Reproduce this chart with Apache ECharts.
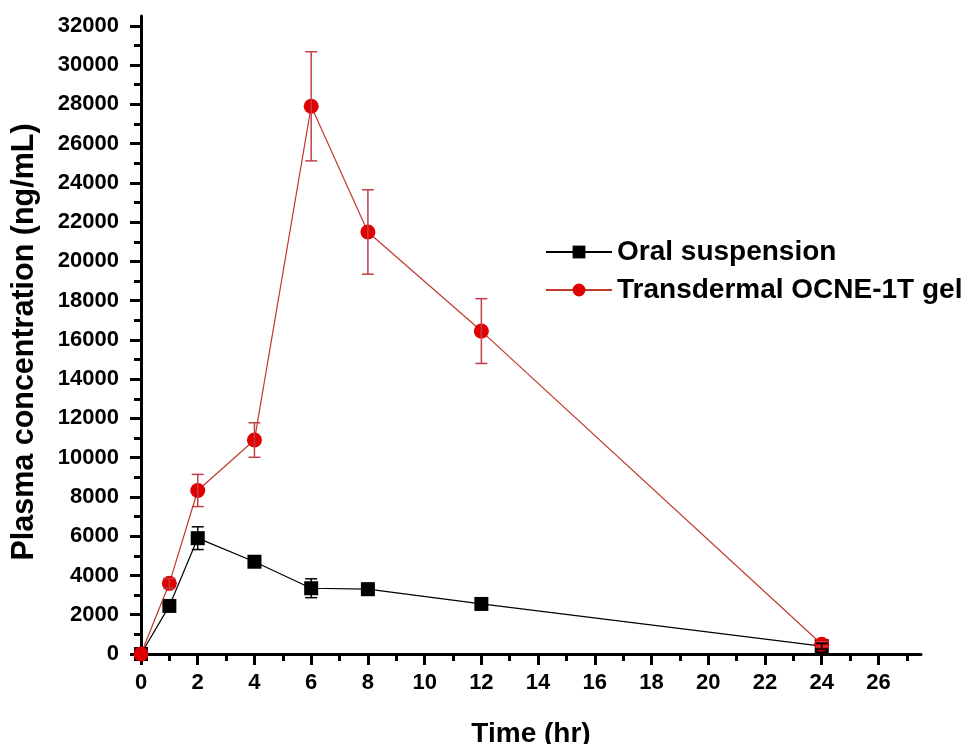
<!DOCTYPE html>
<html>
<head>
<meta charset="utf-8">
<script src="https://cdn.jsdelivr.net/npm/echarts@6/dist/echarts.min.js"></script>
<style>
    html, body { margin: 0; background: #fff; }
    #chart { width: 969px; height: 744px; }
</style>
</head>
<body>
<div id="chart"></div>
<script>
// sampling times (hr)
const times = [0, 1, 2, 4, 6, 8, 12, 24];
// oral suspension, mean and sd (ng/mL)
const oralMean = [0, 2450, 5900, 4700, 3350, 3300, 2550, 400];
const oralSd = [0, 150, 580, 200, 480, 300, 150, 150];
// transdermal gel, mean and sd (ng/mL)
const gelMean = [0, 3600, 8330, 10900, 27900, 21500, 16450, 500];
const gelSd = [0, 250, 820, 880, 2780, 2150, 1650, 120];
// tick positions
const xMajorTicks = [0, 2, 4, 6, 8, 10, 12, 14, 16, 18, 20, 22, 24, 26];
const xMinorTicks = [1, 3, 5, 7, 9, 11, 13, 15, 17, 19, 21, 23, 25, 27];
const yMajorTicks = [0, 2000, 4000, 6000, 8000, 10000, 12000, 14000, 16000,
    18000, 20000, 22000, 24000, 26000, 28000, 30000, 32000];
const yMinorTicks = [1000, 3000, 5000, 7000, 9000, 11000, 13000, 15000,
    17000, 19000, 21000, 23000, 25000, 27000, 29000, 31000];

const font = 'Liberation Sans, Arial, sans-serif';

function pairs(means) {
    return times.map((t, i) => [t, means[i]]);
}
function bars(means, sds) {
    return times.map((t, i) => [t, means[i] - sds[i], means[i] + sds[i]]);
}
function errorBar(color) {
    return function (params, api) {
        const x = api.value(0);
        if (api.value(2) === api.value(1)) return null;
        const lo = api.coord([x, api.value(1)]);
        const hi = api.coord([x, api.value(2)]);
        const w = 6;
        const style = { stroke: color, lineWidth: 1.5 };
        return {
            type: 'group',
            children: [
                { type: 'line', shape: { x1: lo[0], y1: lo[1], x2: hi[0], y2: hi[1] }, style: style },
                { type: 'line', shape: { x1: lo[0] - w, y1: lo[1], x2: lo[0] + w, y2: lo[1] }, style: style },
                { type: 'line', shape: { x1: hi[0] - w, y1: hi[1], x2: hi[0] + w, y2: hi[1] }, style: style }
            ]
        };
    };
}

const axisLineStyle = { color: '#000', width: 3 };
const labelStyle = {
    color: '#000', fontSize: 22, fontWeight: 'bold', fontFamily: font,
    formatter: v => String(v)  // no thousands separator
};

let myChart = echarts.init(document.getElementById('chart'));
let option = {
    animation: false,
    grid: {
        left: 141,
        right: 48,
        top: 16,
        bottom: 90,
        outerBoundsMode: 'none'
    },
    legend: {
        orient: 'vertical',
        left: 540,
        top: 233,
        itemWidth: 66,
        itemHeight: 16,
        itemGap: 10,
        data: ['Oral suspension', 'Transdermal OCNE-1T gel'],
        textStyle: { color: '#000', fontSize: 28, fontWeight: 'bold', fontFamily: font }
    },
    xAxis: [
        {
            type: 'value',
            min: 0,
            max: 27.5,
            name: 'Time (hr)',
            nameLocation: 'middle',
            nameGap: 66,
            nameTextStyle: { color: '#000', fontSize: 28, fontWeight: 'bold', fontFamily: font },
            axisLine: { lineStyle: axisLineStyle },
            axisTick: { customValues: xMajorTicks, length: 11, lineStyle: { color: '#000', width: 3 } },
            axisLabel: Object.assign({ customValues: xMajorTicks, margin: 18 }, labelStyle),
            splitLine: { show: false }
        },
        {
            type: 'value',
            min: 0,
            max: 27.5,
            position: 'bottom',
            axisLine: { show: false },
            axisTick: { customValues: xMinorTicks, length: 7, lineStyle: { color: '#000', width: 3 } },
            axisLabel: { show: false },
            splitLine: { show: false }
        }
    ],
    yAxis: [
        {
            type: 'value',
            min: 0,
            max: 32500,
            name: 'Plasma concentration (ng/mL)',
            nameLocation: 'middle',
            nameGap: 101,
            nameTextStyle: {
                color: '#000', fontSize: 30.5, fontWeight: 'bold', fontFamily: font,
                padding: [0, 14, 0, 0]
            },
            axisLine: { show: true, lineStyle: axisLineStyle },
            axisTick: { show: true, customValues: yMajorTicks, length: 11, lineStyle: { color: '#000', width: 3 } },
            axisLabel: Object.assign({ customValues: yMajorTicks, margin: 22 }, labelStyle),
            splitLine: { show: false }
        },
        {
            type: 'value',
            min: 0,
            max: 32500,
            position: 'left',
            axisLine: { show: false },
            axisTick: { show: true, customValues: yMinorTicks, length: 7, lineStyle: { color: '#000', width: 3 } },
            axisLabel: { show: false },
            splitLine: { show: false }
        }
    ],
    series: [
        {
            name: 'Oral suspension',
            type: 'line',
            data: pairs(oralMean),
            symbol: 'rect',
            symbolSize: 14,
            z: 2,
            lineStyle: { color: '#000', width: 1.2 },
            itemStyle: { color: '#000' }
        },
        {
            name: 'Transdermal OCNE-1T gel',
            type: 'line',
            data: pairs(gelMean),
            symbol: 'circle',
            symbolSize: 15,
            z: 3,
            lineStyle: { color: '#c0392b', width: 1.2 },
            itemStyle: { color: '#e00000' }
        },
        {
            type: 'custom',
            data: bars(gelMean, gelSd),
            renderItem: errorBar('#c0404a'),
            z: 4
        },
        {
            type: 'custom',
            data: bars(oralMean, oralSd),
            renderItem: errorBar('#000'),
            z: 5
        }
    ]
};
myChart.setOption(option);
</script>
</body>
</html>
